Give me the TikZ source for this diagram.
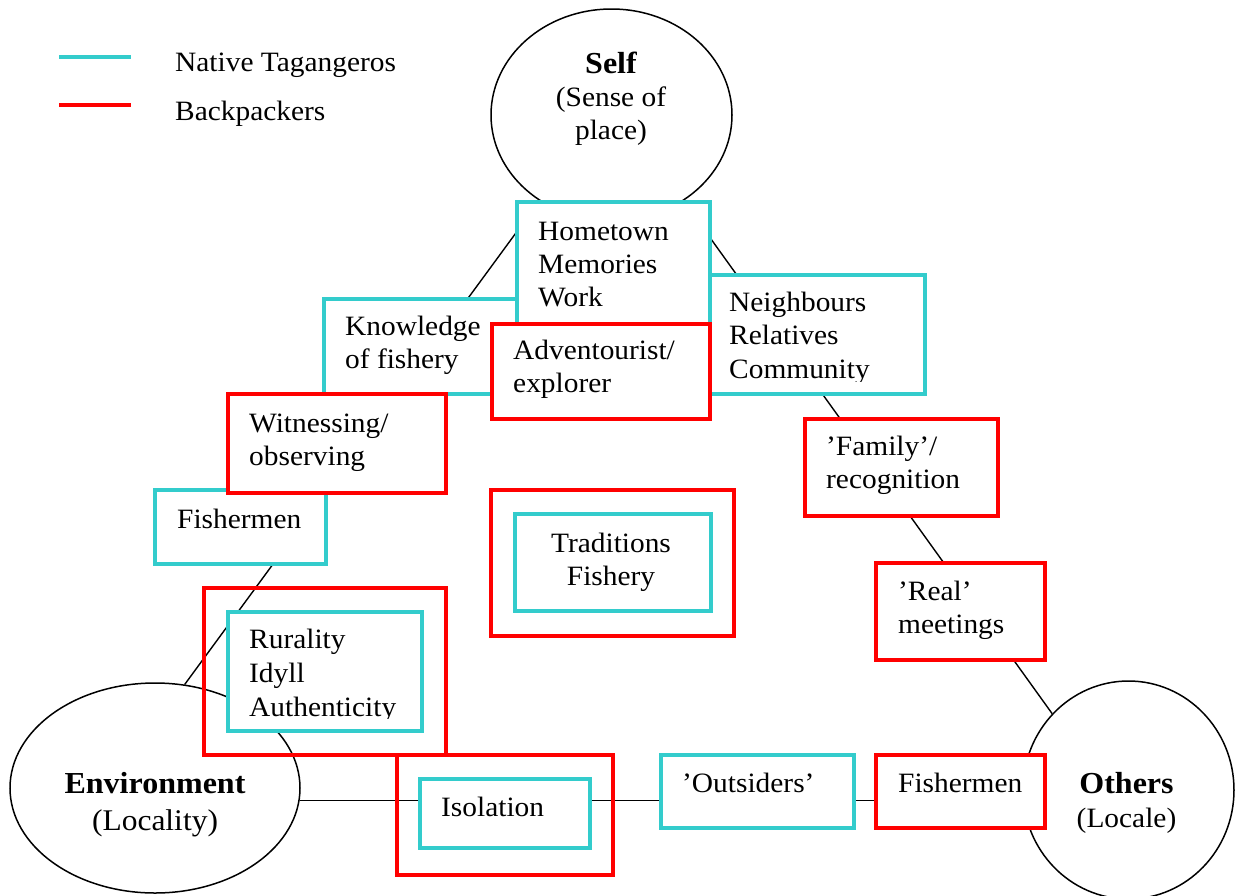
\documentclass[tikz,border=0pt]{standalone}
\usepackage{fontspec}
\setmainfont{Liberation Serif}[FakeStretch=1.05]
\usetikzlibrary{shapes.geometric}
\definecolor{tq}{RGB}{51,204,204}
\definecolor{rd}{RGB}{255,0,0}
\newcommand\mylines[1]{\begin{tabular}[t]{@{}l@{}}#1\end{tabular}}
\newcommand\mylinesc[1]{\begin{tabular}[t]{@{}c@{}}#1\end{tabular}}
\begin{document}
\begin{tikzpicture}[x=1pt,y=-1pt,
  cbox/.style={draw=tq, line width=4pt, fill=white, inner sep=0pt, anchor=north west},
  rbox/.style={draw=rd, line width=4pt, fill=white, inner sep=0pt, anchor=north west},
  rframe/.style={draw=rd, line width=4pt, inner sep=0pt, anchor=north west},
  ell/.style={draw, ellipse, line width=1.5pt, fill=white, inner sep=0pt},
  txt/.style={inner sep=0pt, anchor=base west, font=\fontsize{28}{33.5}\selectfont},
  ctxt/.style={inner sep=0pt, anchor=base, font=\fontsize{28}{33.5}\selectfont},
  conn/.style={draw, line width=1.4pt},
  swatch/.style={line width=4.3pt}]
\useasboundingbox (0,0) rectangle (1235,895);

% legend
\coordinate (lc1) at (59,57);
\coordinate (lc2) at (131,57);
\coordinate (lr1) at (59,105);
\coordinate (lr2) at (131,105);
\draw[swatch, tq] (lc1) -- (lc2);
\draw[swatch, rd] (lr1) -- (lr2);
\node[txt] (legN) at (175,71) {Native Tagangeros};
\node[txt] (legB) at (175,120) {Backpackers};

% ellipses
\node[ell, minimum width=241pt, minimum height=212pt] (self) at (611.5,115) {};
\node[ell, minimum width=290pt, minimum height=210pt] (env) at (155,788) {};
\node[ell, minimum width=211pt, minimum height=218pt] (others) at (1128.5,790) {};

\node[ctxt, font=\fontsize{28}{33}\selectfont] (selfT) at (611,73)
  {\mylinesc{{\fontsize{30.5}{33}\selectfont\bfseries Self}\\(Sense of\\place)}};
\node[ctxt, font=\fontsize{30}{37}\selectfont] (envT) at (155,793)
  {\mylinesc{{\fontsize{30.5}{37}\selectfont\bfseries Environment}\\(Locality)}};
\node[ctxt, font=\fontsize{28}{34}\selectfont] (othersT) at (1126.5,793)
  {\mylinesc{{\fontsize{30.5}{34}\selectfont\bfseries Others}\\(Locale)}};

% connectors
\draw[conn] (self.230) -- (env.74);
\draw[conn] (self.-50) -- (others.135);
\draw[conn] (env.-5) -- (env.-5 -| others.west);

% upper boxes
\node[cbox, minimum width=238pt, minimum height=95pt] (know) at (322,297) {};
\node[cbox, minimum width=193pt, minimum height=180pt] (home) at (515,200) {};
\node[cbox, minimum width=215pt, minimum height=119pt] (neigh) at (708,273) {};
\node[rbox, minimum width=218pt, minimum height=95pt] (adv) at (490,322) {};
\node[cbox, minimum width=171pt, minimum height=74pt] (fishL) at (153,488) {};
\node[rbox, minimum width=218pt, minimum height=99pt] (wit) at (226,392) {};

\node[txt] (knowT) at (345,335) {\mylines{Knowledge\\of fishery}};
\node[txt, font=\fontsize{28}{33}\selectfont] (homeT) at (538,240) {\mylines{Hometown\\Memories\\Work}};
\begin{scope}
\clip (700,260) rectangle (930,381);
\node[txt] (neighT) at (729,311) {\mylines{Neighbours\\Relatives\\Community}};
\end{scope}
\node[txt] (advT) at (513,359) {\mylines{Adventourist/\\explorer}};
\node[txt] (witT) at (249,432) {\mylines{Witnessing/\\observing}};
\node[txt] (fishLT) at (177,528) {Fishermen};

% right side boxes
\node[rbox, minimum width=193pt, minimum height=97pt] (fam) at (803,417) {};
\node[rbox, minimum width=169pt, minimum height=97pt] (real) at (874,561) {};
\node[txt] (famT) at (826,455) {\mylines{’Family’/\\recognition}};
\node[txt] (realT) at (898,600) {\mylines{’Real’\\meetings}};

% traditions
\node[rframe, minimum width=243pt, minimum height=146pt] (tradO) at (489,488) {};
\node[cbox, minimum width=196pt, minimum height=97pt] (tradI) at (513,512) {};
\node[ctxt] (tradT) at (611,552) {\mylinesc{Traditions\\Fishery}};

% rurality
\node[rframe, minimum width=242pt, minimum height=167pt] (ruralO) at (202,586) {};
\node[cbox, minimum width=194pt, minimum height=119pt] (ruralI) at (226,610) {};
\begin{scope}
\clip (220,600) rectangle (430,718);
\node[txt, font=\fontsize{28}{34}\selectfont] (ruralT) at (249,648) {\mylines{Rurality\\Idyll\\Authenticity}};
\end{scope}

% bottom row
\node[rframe, minimum width=216pt, minimum height=120pt] (isoO) at (395,753) {};
\node[cbox, minimum width=170pt, minimum height=69pt] (isoI) at (418,777) {};
\node[txt] (isoT) at (441,816) {Isolation};
\node[cbox, minimum width=193pt, minimum height=73pt] (outs) at (659,753) {};
\node[txt] (outsT) at (682,792) {’Outsiders’};
\node[rbox, minimum width=169pt, minimum height=73pt] (fishR) at (874,753) {};
\node[txt] (fishRT) at (898,792) {Fishermen};
\end{tikzpicture}
\end{document}
